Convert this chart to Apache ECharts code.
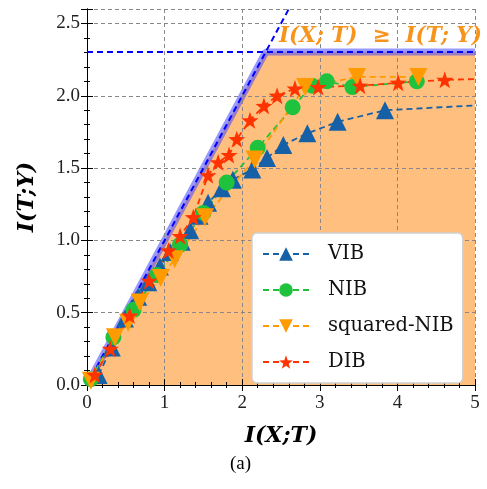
<!DOCTYPE html>
<html>
<head>
<meta charset="utf-8">
<script src="https://cdn.jsdelivr.net/npm/echarts@6/dist/echarts.min.js"></script>
<style>
html, body { margin: 0; background: #fff; }
#chart { width: 487px; height: 489px; }
</style>
</head>
<body>
<div id="chart"></div>
<script>
// values
const vibX = [0.15, 0.32, 0.49, 0.66, 0.79, 0.94, 1.07, 1.22, 1.33, 1.45, 1.56, 1.74, 1.88, 2.13, 2.32, 2.53, 2.84, 3.23, 3.84, 5.6];
const vibY = [0.07, 0.26, 0.46, 0.61, 0.71, 0.82, 0.92, 0.99, 1.07, 1.17, 1.26, 1.36, 1.42, 1.49, 1.57, 1.66, 1.74, 1.82, 1.90, 1.95];
const nibX = [0.05, 0.34, 0.6, 0.9, 1.2, 1.5, 1.8, 2.2, 2.65, 2.9, 3.09, 3.42, 4.25];
const nibY = [0.04, 0.33, 0.52, 0.76, 0.97, 1.19, 1.40, 1.64, 1.92, 2.07, 2.10, 2.06, 2.10];
const sqX = [0.05, 0.36, 0.53, 0.68, 0.95, 1.13, 1.52, 2.16, 2.81, 3.48, 4.27];
const sqY = [0.03, 0.33, 0.43, 0.57, 0.74, 0.87, 1.16, 1.56, 2.06, 2.13, 2.13];
const dibX = [0.1, 0.3, 0.55, 0.8, 1.05, 1.2, 1.37, 1.56, 1.69, 1.83, 1.93, 2.10, 2.28, 2.45, 2.68, 2.98, 3.52, 4.01, 4.61, 5.3];
const dibY = [0.07, 0.25, 0.48, 0.72, 0.93, 1.03, 1.16, 1.45, 1.54, 1.59, 1.70, 1.83, 1.93, 2.00, 2.05, 2.06, 2.07, 2.09, 2.11, 2.12];

const hY = Math.log(10); // I(T;Y) upper bound
const boundX = [0, hY, 5];
const boundY = [0, hY, hY];
const diagX = [0, 2.8];
const diagY = [0, 2.8];
const hLineX = [0, 5];
const hLineY = [hY, hY];

const xTicks = [0, 1, 2, 3, 4, 5];
const yTicks = [0, 0.5, 1.0, 1.5, 2.0, 2.5];

const zip = (xs, ys) => xs.map((x, i) => [x, ys[i]]);
const star = 'path://M100,0 L123.5,67.6 L195.1,69.1 L138,112.4 L158.8,180.9 L100,140 L41.2,180.9 L62,112.4 L4.9,69.1 L76.5,67.6 Z';
const serif = 'Liberation Serif';
const wide = 'DejaVu Serif';

function axisCommon(showLabel) {
  return {
    type: 'value',
    z: 2,
    axisLine: { show: true, lineStyle: { color: '#000', width: 1 } },
    axisTick: { show: true, inside: true, length: 6, lineStyle: { color: '#000' } },
    minorTick: { show: true, splitNumber: 5, length: 3, lineStyle: { color: '#000' } },
    axisLabel: { show: showLabel, color: '#222', fontFamily: serif, fontSize: 19 },
    splitLine: { show: false }
  };
}

const nameStyle = { fontFamily: wide, fontSize: 22, fontStyle: 'italic', fontWeight: 'bold', color: '#000' };

const xBottom = Object.assign(axisCommon(true), {
  position: 'bottom', min: xTicks[0], max: xTicks[xTicks.length - 1], interval: 1,
  name: 'I(X;T)', nameLocation: 'middle', nameGap: 40, nameTextStyle: nameStyle,
  splitLine: { show: true, lineStyle: { color: '#888', type: [4, 3], width: 1 } }
});
xBottom.axisLabel.margin = 9;
xBottom.axisLabel.formatter = v => String(v);
const xTop = Object.assign(axisCommon(false), { position: 'top', min: 0, max: 5, interval: 1 });

const yLeft = Object.assign(axisCommon(true), {
  position: 'left', min: 0, max: 2.6, interval: 0.5,
  name: 'I(T;Y)', nameLocation: 'middle', nameGap: 49, nameTextStyle: nameStyle,
  splitLine: { show: true, lineStyle: { color: '#888', type: [4, 3], width: 1 } }
});
yLeft.axisLabel.formatter = v => v.toFixed(1);
yLeft.axisLabel.showMaxLabel = false;
yLeft.axisLabel.margin = 7;
const yRight = Object.assign(axisCommon(false), { position: 'right', min: 0, max: 2.6, interval: 0.5 });

function dataSeries(name, xs, ys, color, symbol, size, rotate) {
  return {
    name, type: 'line', data: zip(xs, ys), z: 4,
    xAxisIndex: 0, yAxisIndex: 0,
    symbol, symbolSize: size, symbolRotate: rotate || 0,
    showAllSymbol: true, clip: true,
    itemStyle: { color },
    lineStyle: { color, width: 1.8, type: [6, 4] }
  };
}

const chart = echarts.init(document.getElementById('chart'));
chart.setOption({
  animation: false,
  backgroundColor: '#fff',
  grid: { left: 87, right: 12, top: 9, bottom: 104 },
  xAxis: [xBottom, xTop],
  yAxis: [yLeft, yRight],
  legend: {
    orient: 'vertical', left: 252, top: 233,
    data: ['VIB', 'NIB', 'squared-NIB', 'DIB'],
    itemWidth: 46, itemHeight: 17, itemGap: 16,
    padding: [11, 9, 11, 10],
    backgroundColor: '#fff', borderColor: '#d0d0d0', borderWidth: 1.5, borderRadius: 5,
    textStyle: { fontFamily: wide, fontSize: 19.5, color: '#111', padding: [0, 0, 0, 14] }
  },
  series: [
    {
      type: 'line', data: zip(boundX, boundY), z: 1, symbol: 'none', silent: true,
      lineStyle: { color: 'rgba(70,70,255,0.55)', width: 7 },
      areaStyle: { color: '#ffc07f', opacity: 1 }
    },
    {
      type: 'line', data: zip(diagX, diagY), z: 3, symbol: 'none', silent: true, clip: true,
      lineStyle: { color: '#0000ff', width: 2, type: [6, 4] }
    },
    {
      type: 'line', data: zip(hLineX, hLineY), z: 3, symbol: 'none', silent: true,
      lineStyle: { color: '#0000ff', width: 2, type: [6, 4] }
    },
    dataSeries('VIB', vibX, vibY, '#1660a8', 'triangle', 18),
    dataSeries('NIB', nibX, nibY, '#1ec23c', 'circle', 16),
    dataSeries('squared-NIB', sqX, sqY, '#ff9a00', 'triangle', 18, 180),
    dataSeries('DIB', dibX, dibY, '#ff3300', star, 17)
  ],
  graphic: [
    {
      type: 'text', left: 279, top: 25, z: 10,
      style: { text: 'I(X; T)  \u2265  I(T; Y)', fill: '#f7941d', font: 'italic bold 21.5px "DejaVu Serif"' }
    },
    {
      type: 'text', left: 230, top: 455, z: 10,
      style: { text: '(a)', fill: '#000', font: '19px "Liberation Serif"' }
    }
  ]
});
</script>
</body>
</html>
